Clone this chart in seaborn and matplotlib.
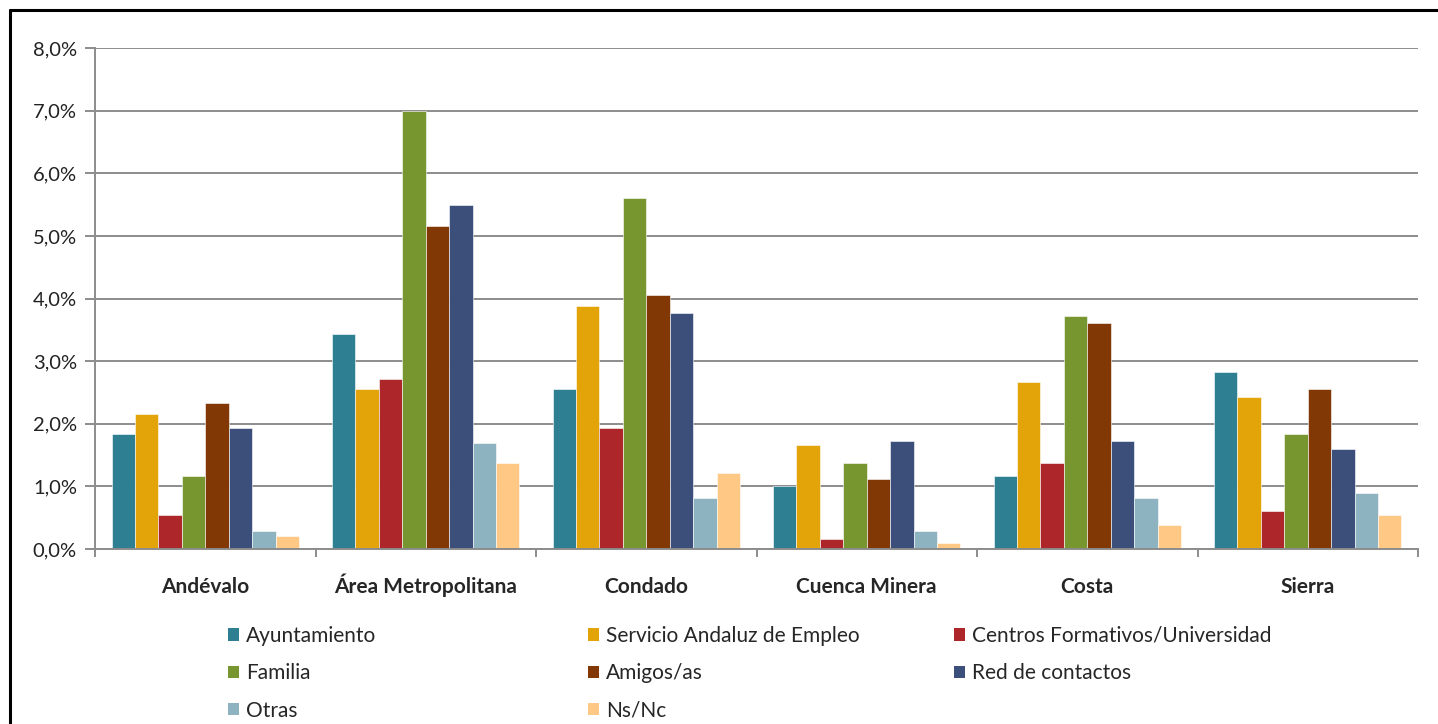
import matplotlib
matplotlib.use("Agg")
import matplotlib.pyplot as plt
from matplotlib.lines import Line2D
from matplotlib.patches import Patch
from matplotlib.ticker import FuncFormatter, FixedLocator
import seaborn as sns
import pandas as pd

# comarcas (x categories)
comarcas = ['Andévalo', 'Área Metropolitana', 'Condado', 'Cuenca Minera', 'Costa', 'Sierra']

# canales (series)
canales = ['Ayuntamiento', 'Servicio Andaluz de Empleo', 'Centros Formativos/Universidad',
           'Familia', 'Amigos/as', 'Red de contactos', 'Otras', 'Ns/Nc']

colores = ['#2E7F91', '#E2A408', '#AC262A', '#77962F', '#823805', '#3C4E7A', '#8DB2C0', '#FFC985']

# porcentajes por comarca, en el orden de canales
ayuntamiento = [1.83, 3.44, 2.55, 1.00, 1.16, 2.83]
sae = [2.16, 2.55, 3.88, 1.66, 2.66, 2.43]
centros = [0.55, 2.71, 1.93, 0.16, 1.38, 0.60]
familia = [1.16, 7.00, 5.61, 1.38, 3.72, 1.83]
amigos = [2.33, 5.16, 4.05, 1.11, 3.61, 2.55]
red = [1.93, 5.50, 3.77, 1.72, 1.72, 1.60]
otras = [0.29, 1.69, 0.82, 0.29, 0.82, 0.89]
nsnc = [0.21, 1.38, 1.21, 0.10, 0.38, 0.55]

series = [ayuntamiento, sae, centros, familia, amigos, red, otras, nsnc]

rows = []
for canal, vals in zip(canales, series):
    for com, v in zip(comarcas, vals):
        rows.append({'comarca': com, 'canal': canal, 'valor': v})
df = pd.DataFrame(rows)

sns.set_theme(style="white")
plt.rcParams['font.family'] = ['Lato', 'DejaVu Sans']

fig = plt.figure(figsize=(14.38, 7.24), dpi=100)
ax = fig.add_axes([95 / 1438, 1 - 549 / 724, (1418 - 95) / 1438, (549 - 48) / 724])

sns.barplot(data=df, x='comarca', y='valor', hue='canal', order=comarcas, hue_order=canales,
            palette=colores, width=0.85, gap=0, ax=ax, legend=False,
            edgecolor='white', linewidth=0.4, saturation=1)

ax.set_ylim(0, 8)
ax.set_xlim(-0.5, len(comarcas) - 0.5)
ax.set_yticks(range(0, 9))
ax.yaxis.set_major_formatter(FuncFormatter(lambda v, p: f"{v:.1f}%".replace('.', ',')))
ax.set_axisbelow(True)
ax.grid(axis='y', color='#8C8C8C', linewidth=1.4)
ax.set_xlabel('')
ax.set_ylabel('')

for s in ['top', 'right']:
    ax.spines[s].set_visible(False)
for s in ['left', 'bottom']:
    ax.spines[s].set_color('#8C8C8C')
    ax.spines[s].set_linewidth(1.4)

ax.tick_params(axis='y', which='major', length=7, width=1.4, color='#8C8C8C',
               labelsize=14.5, pad=6, left=True)
ax.tick_params(axis='x', which='major', length=0, labelsize=15, pad=32)
ax.xaxis.set_minor_locator(FixedLocator([i - 0.5 for i in range(len(comarcas) + 1)]))
ax.tick_params(axis='x', which='minor', length=6, width=1.4, color='#8C8C8C', bottom=True)
for lab in ax.get_xticklabels():
    lab.set_fontweight('bold')
    lab.set_verticalalignment('baseline')
for lab in ax.get_yticklabels():
    lab.set_color('#222222')

# leyenda en tres columnas, filas de izquierda a derecha
cols = [[0, 3, 6], [1, 4, 7], [2, 5]]
xs = [228, 588, 954]
for idx, x0 in zip(cols, xs):
    handles = [Patch(facecolor=colores[i], edgecolor='none') for i in idx]
    labels = [canales[i] for i in idx]
    fig.legend(handles, labels, loc='upper left', bbox_to_anchor=(x0 / 1438, 1 - 626 / 724),
               frameon=False, fontsize=15, handlelength=0.55, handleheight=0.55,
               handletextpad=0.3, labelspacing=0.83, borderaxespad=0, borderpad=0)

# marco
fig.add_artist(Line2D([10 / 1438, 10 / 1438], [0, 1 - 10 / 724], color='black', linewidth=2.2,
                      transform=fig.transFigure))
fig.add_artist(Line2D([10 / 1438, 1], [1 - 10 / 724, 1 - 10 / 724], color='black', linewidth=2.2,
                      transform=fig.transFigure))

fig.savefig('out.png', dpi=100)
